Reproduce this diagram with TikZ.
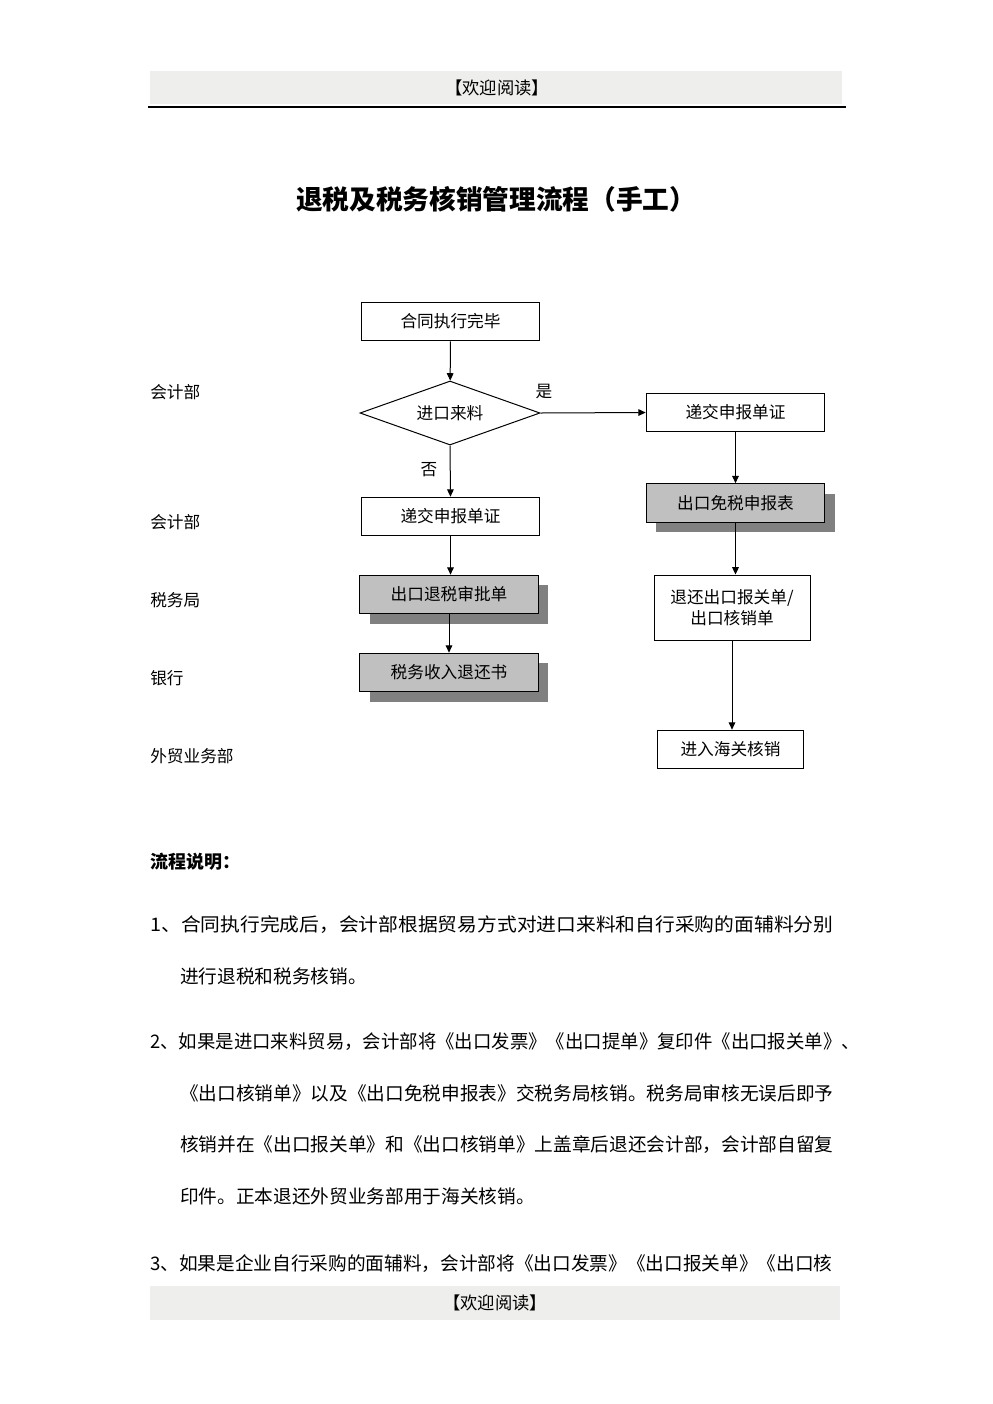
\documentclass[tikz,border=0pt]{standalone}
\usepackage{fontspec}
\usepackage{graphicx}
\newfontfamily\cjk{Noto Sans CJK SC}
\usetikzlibrary{arrows.meta,shapes.geometric,shadows}
\definecolor{boxgray}{RGB}{192,192,192}
\definecolor{shadowgray}{RGB}{128,128,128}
\definecolor{bandgray}{RGB}{238,238,236}
\tikzset{
  box/.style={draw, line width=0.75pt, minimum width=134pt, minimum height=29pt,
    inner sep=0pt, font=\cjk\fontsize{12.5}{14}\selectfont},
  greybox/.style={box, fill=boxgray,
    drop shadow={shadow xshift=7.5pt, shadow yshift=-7.5pt, fill=shadowgray, opacity=1}},
  cond/.style={diamond, draw, line width=0.75pt, aspect=2.8, minimum width=135pt,
    minimum height=48pt, inner sep=0pt, font=\cjk\fontsize{12.5}{14}\selectfont},
  arr/.style={line width=0.75pt, -{Triangle[width=5pt,length=5.5pt]}},
  dept/.style={anchor=west, inner sep=0pt, font=\cjk\fontsize{12.5}{14}\selectfont},
  para/.style={anchor=west, inner sep=0pt, font=\cjk\fontsize{14}{16}\selectfont},
  band/.style={fill=bandgray, draw=none},
}
\begin{document}
\begin{tikzpicture}[x=0.75pt, y=-0.75pt]
    \useasboundingbox (0,0) rectangle (993,1404);
    \fill[white] (0,0) rectangle (993,1404);
    \fill[band] (150,71) rectangle (842,104);
    \draw[line width=1.2pt] (148,107)--(846,107);
    \node[font=\cjk\fontsize{13}{15}\selectfont] (head) at (497,88) {【欢迎阅读】};
    \fill[band] (150,1286) rectangle (840,1320);
    \node[font=\cjk\fontsize{13}{15}\selectfont] (foot) at (495,1303) {【欢迎阅读】};
    \node[font=\cjk\bfseries\fontsize{20}{24}\selectfont] (title) at (496,199)
        {退税及税务核销管理流程（手工）};

    \node[dept] (d1) at (150,392) {会计部};
    \node[dept] (d2) at (150,522) {会计部};
    \node[dept] (d3) at (150,600) {税务局};
    \node[dept] (d4) at (150,678) {银行};
    \node[dept] (d5) at (150,756) {外贸业务部};

    \node[box] (start) at (450.5,321.5) {合同执行完毕};
    \node[cond] (cond) at (450,413) {进口来料};
    \node[box] (rdecl) at (735.5,412.5) {递交申报单证};
    \node[box] (ldecl) at (450.5,516.5) {递交申报单证};
    \node[greybox] (exempt) at (735.5,503) {出口免税申报表};
    \node[greybox] (approve) at (449,594.5) {出口退税审批单};
    \node[greybox] (refund) at (449,672.5) {税务收入退还书};
    \node[box, minimum width=117pt, minimum height=48.75pt, align=center]
        (ret) at (732,607.5) {退还出口报关单/\\[2pt]出口核销单};
    \node[box, minimum width=110pt] (cust) at (730.5,749.5) {进入海关核销};
    \node[dept, anchor=center] (yes) at (544,392) {是};
    \node[dept, anchor=center] (no) at (429,470) {否};

    \draw[arr] (start) -- (cond);
    \draw[arr] (cond.east) -- (rdecl.west);
    \draw[arr] (cond.south) -- (ldecl.north);
    \draw[arr] (ldecl) -- (approve.north -| ldecl);
    \draw[arr] (approve) -- (refund);
    \draw[arr] (rdecl) -- (exempt);
    \draw[arr] (exempt) -- (exempt |- ret.north);
    \draw[arr] (ret) -- (ret |- cust.north);

    \node[para, font=\cjk\bfseries\fontsize{13.5}{16}\selectfont] (notes) at (150,862) {流程说明：};
    \node[para] (p1a) at (150,925) {\scalebox{1.059}[1]{1、合同执行完成后，会计部根据贸易方式对进口来料和自行采购的面辅料分别}};
    \node[para] (p1b) at (180,976) {进行退税和税务核销。};
    \node[para] (p2a) at (150,1042) {\scalebox{0.986}[1]{2、如果是进口来料贸易，会计部将《出口发票》《出口提单》复印件《出口报关单》、}};
    \node[para] (p2b) at (180,1093) {《出口核销单》以及《出口免税申报表》交税务局核销。税务局审核无误后即予};
    \node[para] (p2c) at (180,1145) {核销并在《出口报关单》和《出口核销单》上盖章后退还会计部，会计部自留复};
    \node[para] (p2d) at (180,1196) {印件。正本退还外贸业务部用于海关核销。};
    \node[para] (p3a) at (150,1264) {3、如果是企业自行采购的面辅料，会计部将《出口发票》《出口报关单》《出口核};
\end{tikzpicture}
\end{document}
